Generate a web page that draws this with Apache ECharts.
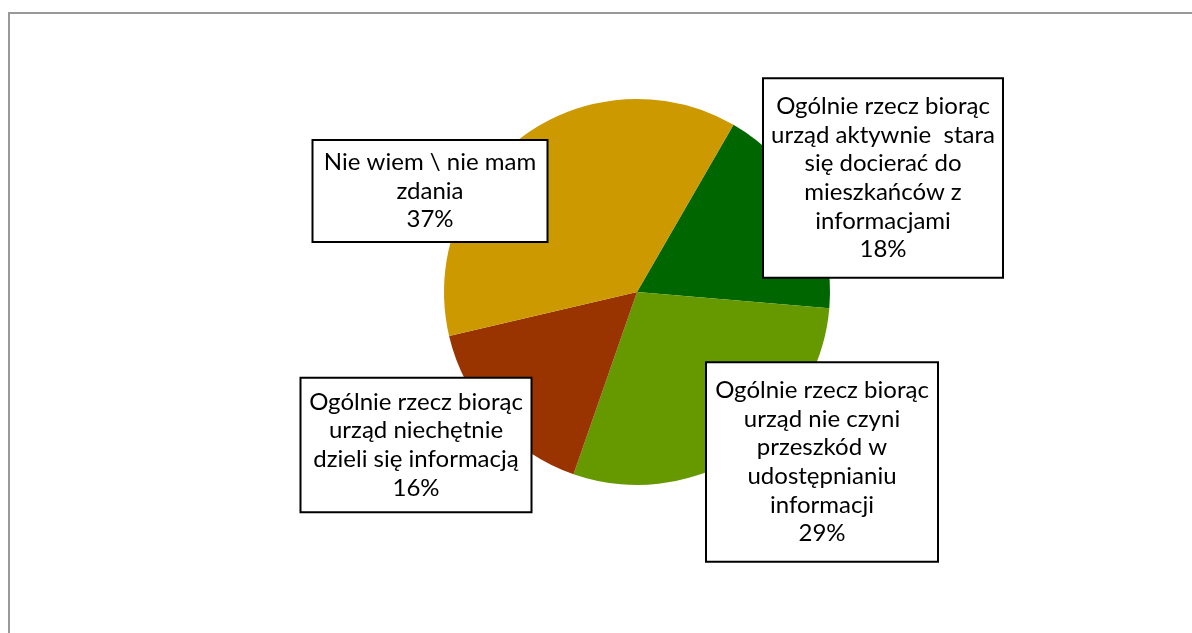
<!DOCTYPE html>
<html>
<head>
<meta charset="utf-8">
<script src="https://cdn.jsdelivr.net/npm/echarts@6/dist/echarts.min.js"></script>
<style>
html,body{margin:0;padding:0;background:#fff;}
#chart{width:1192px;height:633px;}
</style>
</head>
<body>
<div id="chart"></div>
<script>
// Data
var categories = [
  "Ogólnie rzecz biorąc urząd aktywnie  stara się docierać do mieszkańców z informacjami",
  "Ogólnie rzecz biorąc urząd nie czyni przeszkód w udostępnianiu informacji",
  "Ogólnie rzecz biorąc urząd niechętnie dzieli się informacją",
  "Nie wiem \\ nie mam zdania"
];
var labelTexts = [
  "Ogólnie rzecz biorąc\nurząd aktywnie  stara\nsię docierać do\nmieszkańców z\ninformacjami",
  "Ogólnie rzecz biorąc\nurząd nie czyni\nprzeszkód w\nudostępnianiu\ninformacji",
  "Ogólnie rzecz biorąc\nurząd niechętnie\ndzieli się informacją",
  "Nie wiem \\ nie mam\nzdania"
];
var values = [18, 29, 16, 37];
var colors = ["#006600", "#669900", "#993300", "#CC9900"];

// Label box layout (centers, sizes) - styling only
var boxCenters = [[883, 178], [822, 462], [416, 445], [430, 191]];
var boxPad = [[13, 6], [13, 6], [9, 6], [7, 6]];
var boxWidth = [226, 218, 217, 221];

var chart = echarts.init(document.getElementById('chart'), null, {renderer: 'canvas'});
var data = values.map(function (v, i) {
  return {
    name: categories[i],
    value: v,
    itemStyle: {color: colors[i]},
    label: {
      padding: [boxPad[i][0], boxPad[i][1], boxPad[i][0], boxPad[i][1]],
      width: boxWidth[i]
    }
  };
});

var option = {
  animation: false,
  backgroundColor: '#ffffff',
  graphic: [{
    type: 'rect',
    shape: {x: 9, y: 13, width: 1300, height: 800},
    style: {fill: 'none', stroke: '#999999', lineWidth: 2},
    silent: true
  }],
  series: [{
    type: 'pie',
    center: [637, 292],
    radius: 193,
    startAngle: 60,
    clockwise: true,
    avoidLabelOverlap: false,
    itemStyle: {borderWidth: 0},
    labelLine: {show: false},
    label: {
      show: true,
      position: 'outside',
      formatter: function (p) {
        return labelTexts[p.dataIndex] + '\n' + p.value + '%';
      },
      fontFamily: 'Lato',
      fontSize: 24,
      lineHeight: 28.6,
      color: '#000000',
      align: 'center',
      backgroundColor: '#ffffff',
      borderColor: '#000000',
      borderWidth: 2,
      overflow: 'none'
    },
    labelLayout: function (params) {
      var c = boxCenters[params.dataIndex];
      return {x: c[0], y: c[1], align: 'center', verticalAlign: 'middle', hideOverlap: false};
    },
    data: data
  }]
};
chart.setOption(option);
</script>
</body>
</html>
